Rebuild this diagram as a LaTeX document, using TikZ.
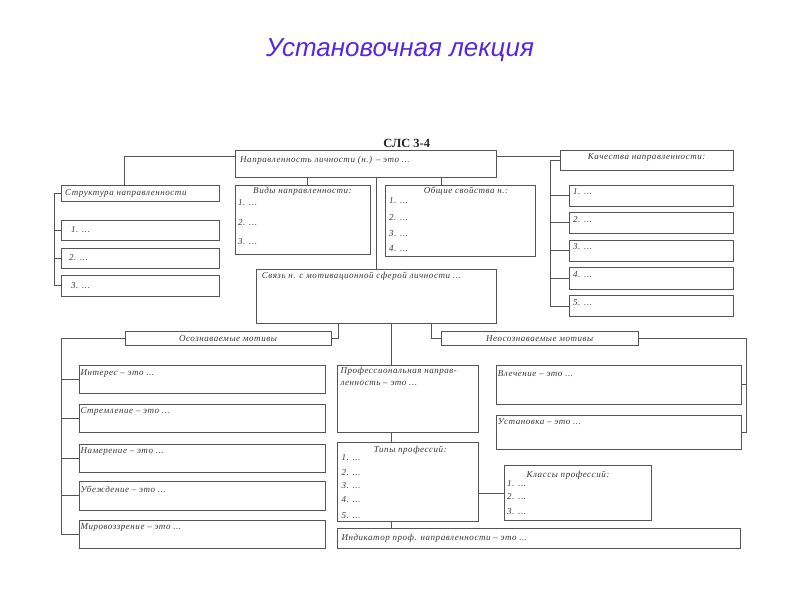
\documentclass[tikz,border=0pt]{standalone}
\usepackage{fontspec}
\setmainfont{Liberation Serif}
\newfontfamily\titlefont{Liberation Sans}
\newfontfamily\lbfam[LetterSpace=6]{Liberation Serif}
\definecolor{linec}{RGB}{85,85,85}
\definecolor{txtc}{RGB}{55,55,55}
\definecolor{titlec}{RGB}{88,40,220}
\newcommand{\lbfont}{\lbfam\fontsize{9}{11}\selectfont\itshape}
\tikzset{
  box/.style={draw=linec, line width=0.9pt, inner sep=0pt, outer sep=0pt, anchor=north west},
  lbl/.style={font=\lbfont, text=txtc, inner sep=0pt, anchor=west},
  hdr/.style={font=\lbfont, text=txtc, inner sep=0pt, anchor=center},
  conn/.style={draw=linec, line width=0.9pt},
}
\newcommand{\bx}[5]{\node[box, minimum width={(#4-#2)*1pt}, minimum height={(#5-#3)*1pt}] (#1) at (#2,#3) {};}
\begin{document}
\begin{tikzpicture}[x=1pt,y=-1pt]
\useasboundingbox[fill=white] (0,0) rectangle (800,600);
\node[font=\titlefont\itshape\fontsize{26}{30}\selectfont, text=titlec] (title) at (400,50) {Установочная лекция};
\node[font=\bfseries\fontsize{12.5}{14}\selectfont, text=black!85] (slc) at (406.7,143.3) {СЛС 3-4};
% boxes
\bx{main}{235}{150}{496.7}{177.7}
\bx{strukt}{61}{185}{219}{201.7}
\bx{s1}{61}{220}{219}{240}
\bx{s2}{61}{248}{219}{268}
\bx{s3}{61}{275.7}{219}{296}
\bx{vidy}{235}{185}{370}{254}
\bx{obsh}{385}{185}{535}{256}
\bx{svyaz}{256.7}{269.3}{496.7}{323.3}
\bx{kach}{560}{150}{733.3}{170.7}
\bx{k1}{569}{185}{733.3}{206}
\bx{k2}{569}{212.3}{733.3}{233.3}
\bx{k3}{569}{240}{733.3}{261}
\bx{k4}{569}{267.7}{733.3}{289}
\bx{k5}{569}{295.7}{733.3}{316.7}
\bx{osozn}{125}{331.7}{331}{345.7}
\bx{m1}{79.3}{365.7}{325}{393.3}
\bx{m2}{79.3}{404.3}{325}{432.7}
\bx{m3}{79.3}{444.3}{325}{472.7}
\bx{m4}{79.3}{481.7}{325}{510}
\bx{m5}{79.3}{520}{325}{548.3}
\bx{neos}{441}{331.7}{638.3}{345.7}
\bx{prof}{337.3}{365.7}{478.3}{432.3}
\bx{tipy}{337.3}{442.7}{478.3}{521}
\bx{klassy}{504}{465.7}{651.7}{520.7}
\bx{indik}{337.3}{528.3}{740}{548.3}
\bx{vlech}{496.7}{365.7}{741}{404}
\bx{ust}{496.7}{415.7}{741}{449.3}
% texts
\node[lbl] (t-main) at ([shift={(5,10)}]main.north west) {Направленность личности (н.) – это ...};
\node[lbl] (t-strukt) at ([shift={(4,8)}]strukt.north west) {Структура направленности};
\node[lbl] (t-s1) at ([shift={(10,10)}]s1.north west) {1. ...};
\node[lbl] (t-s2) at ([shift={(8,10)}]s2.north west) {2. ...};
\node[lbl] (t-s3) at ([shift={(10,10)}]s3.north west) {3. ...};
\node[hdr] (t-vidy) at ([shift={(0,6)}]vidy.north) {Виды направленности:};
\node[lbl] (t-v1) at ([shift={(3,18)}]vidy.north west) {1. ...};
\node[lbl] (t-v2) at ([shift={(3,38)}]vidy.north west) {2. ...};
\node[lbl] (t-v3) at ([shift={(3,57)}]vidy.north west) {3. ...};
\node[hdr] (t-obsh) at ([shift={(81,6)}]obsh.north west) {Общие свойства н.:};
\node[lbl] (t-o1) at ([shift={(4,15.7)}]obsh.north west) {1. ...};
\node[lbl] (t-o2) at ([shift={(4,33)}]obsh.north west) {2. ...};
\node[lbl] (t-o3) at ([shift={(4,49)}]obsh.north west) {3. ...};
\node[lbl] (t-o4) at ([shift={(4,64)}]obsh.north west) {4. ...};
\node[hdr] (t-kach) at ([shift={(0,-3)}]kach.center) {Качества направленности:};
\node[lbl] (t-k1) at ([shift={(4,7)}]k1.north west) {1. ...};
\node[lbl] (t-k2) at ([shift={(4,7)}]k2.north west) {2. ...};
\node[lbl] (t-k3) at ([shift={(4,7)}]k3.north west) {3. ...};
\node[lbl] (t-k4) at ([shift={(4,7)}]k4.north west) {4. ...};
\node[lbl] (t-k5) at ([shift={(4,7)}]k5.north west) {5. ...};
\node[lbl] (t-svyaz) at ([shift={(5,7.4)}]svyaz.north west) {Связь н. с мотивационной сферой личности ...};
\node[hdr] (t-osozn) at (osozn.center) {Осознаваемые мотивы};
\node[lbl] (t-m1) at ([shift={(1,7.6)}]m1.north west) {Интерес – это ...};
\node[lbl] (t-m2) at ([shift={(1,7.6)}]m2.north west) {Стремление – это ...};
\node[lbl] (t-m3) at ([shift={(1,7.6)}]m3.north west) {Намерение – это ...};
\node[lbl] (t-m4) at ([shift={(1,7.6)}]m4.north west) {Убеждение – это ...};
\node[lbl] (t-m5) at ([shift={(1,7.6)}]m5.north west) {Мировоззрение – это ...};
\node[hdr] (t-neos) at (neos.center) {Неосознаваемые мотивы};
\node[lbl] (t-prof1) at ([shift={(3,6)}]prof.north west) {Профессиональная направ-};
\node[lbl] (t-prof2) at ([shift={(3,17.3)}]prof.north west) {ленность – это ...};
\node[lbl] (t-vlech) at ([shift={(1,7.6)}]vlech.north west) {Влечение – это ...};
\node[lbl] (t-ust) at ([shift={(1,6)}]ust.north west) {Установка – это ...};
\node[hdr] (t-tipy) at ([shift={(73,7.3)}]tipy.north west) {Типы профессий:};
\node[lbl] (t-t1) at ([shift={(4,15.3)}]tipy.north west) {1. ...};
\node[lbl] (t-t2) at ([shift={(4,30)}]tipy.north west) {2. ...};
\node[lbl] (t-t3) at ([shift={(4,43.3)}]tipy.north west) {3. ...};
\node[lbl] (t-t4) at ([shift={(4,57.3)}]tipy.north west) {4. ...};
\node[lbl] (t-t5) at ([shift={(4,73.3)}]tipy.north west) {5. ...};
\node[hdr] (t-klassy) at ([shift={(64,9.3)}]klassy.north west) {Классы профессий:};
\node[lbl] (t-c1) at ([shift={(3,17.6)}]klassy.north west) {1. ...};
\node[lbl] (t-c2) at ([shift={(3,31)}]klassy.north west) {2. ...};
\node[lbl] (t-c3) at ([shift={(3,46)}]klassy.north west) {3. ...};
\node[lbl] (t-indik) at ([shift={(4,10)}]indik.north west) {Индикатор проф. направленности – это ...};
% helper coordinates for bracket lines
\coordinate (lb) at (54,0);
\coordinate (rb) at (550.7,0);
\coordinate (mb) at (61.7,0);
\coordinate (nb) at (746.7,0);
% connectors
\draw[conn] ([yshift=-6.7pt]main.north west) -| ([xshift=63pt]strukt.north west);
\draw[conn] (strukt.west) -| (lb |- s3.west) -- (s3.west);
\draw[conn] (lb |- s1.west) -- (s1.west);
\draw[conn] (lb |- s2.west) -- (s2.west);
\draw[conn] ([xshift=5pt]vidy.north) coordinate (vt) -- (vt |- main.south);
\draw[conn] ([xshift=56pt]obsh.north west) coordinate (ot) -- (ot |- main.south);
\draw[conn] (svyaz.north) -- (svyaz.north |- main.south);
\draw[conn] ([yshift=-6.7pt]main.north east) coordinate (mr) -- (mr -| kach.west);
\draw[conn] (kach.west) -| (rb |- k5.west) -- (k5.west);
\draw[conn] (rb |- k1.west) -- (k1.west);
\draw[conn] (rb |- k2.west) -- (k2.west);
\draw[conn] (rb |- k3.west) -- (k3.west);
\draw[conn] (rb |- k4.west) -- (k4.west);
\draw[conn] (osozn.east) -| ([xshift=81.6pt]svyaz.south west);
\draw[conn] (osozn.west) -| (mb |- m5.west) -- (m5.west);
\draw[conn] (mb |- m1.west) -- (m1.west);
\draw[conn] (mb |- m2.west) -- (m2.west);
\draw[conn] (mb |- m3.west) -- (m3.west);
\draw[conn] (mb |- m4.west) -- (m4.west);
\draw[conn] ([xshift=54.4pt]prof.north west) coordinate (pt) -- (pt |- svyaz.south);
\draw[conn] (neos.west) -| ([xshift=174.3pt]svyaz.south west);
\draw[conn] (neos.east) -| (nb |- ust.east) -- (ust.east);
\draw[conn] (nb |- vlech.east) -- (vlech.east);
\draw[conn] ([xshift=54.4pt]tipy.north west) coordinate (tt) -- (tt |- prof.south);
\draw[conn] (klassy.west) -- (klassy.west -| tipy.east);
\draw[conn] ([xshift=54.4pt]indik.north west) coordinate (it) -- (it |- tipy.south);
\end{tikzpicture}
\end{document}
